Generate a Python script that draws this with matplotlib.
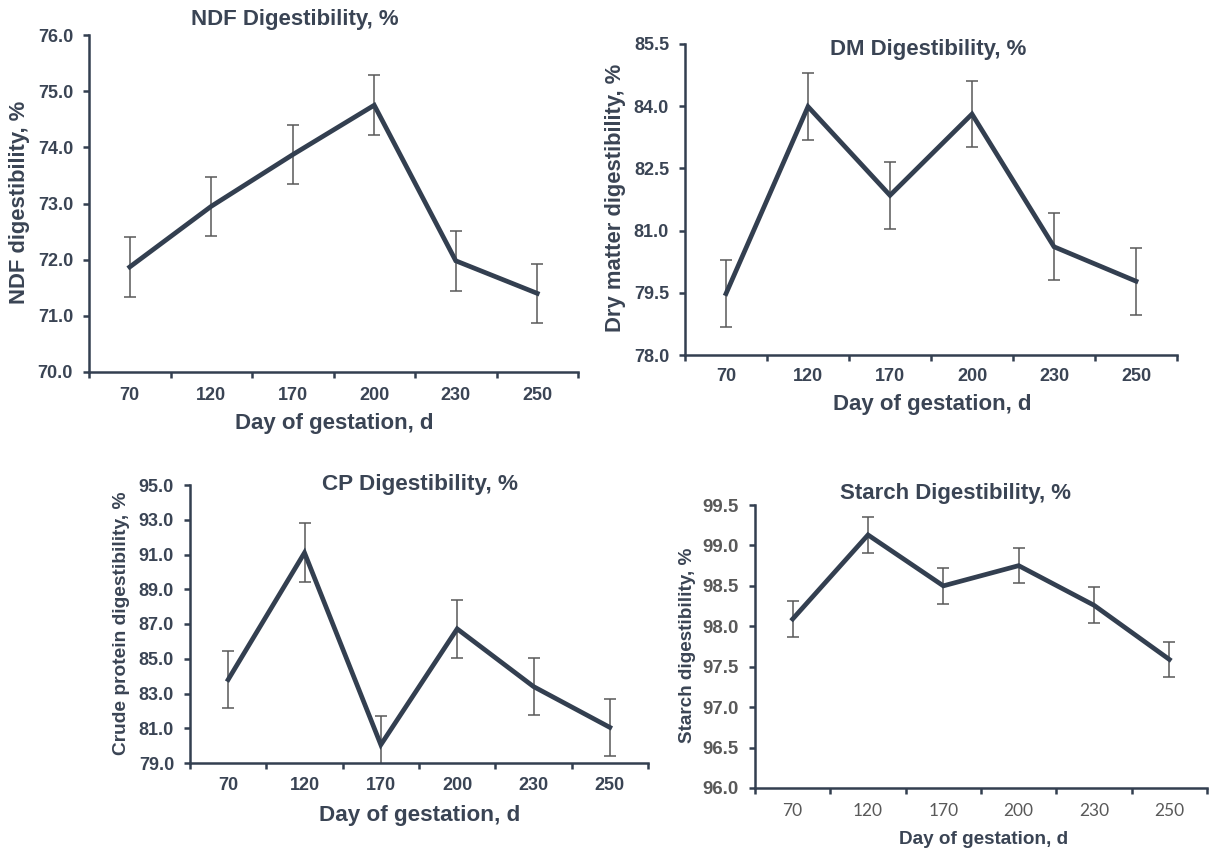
import numpy as np
import matplotlib
matplotlib.use("Agg")
import matplotlib.pyplot as plt

days = ["70", "120", "170", "200", "230", "250"]

ndf_mean = [71.87, 72.95, 73.87, 74.75, 71.98, 71.40]
ndf_err = [0.53, 0.53, 0.53, 0.53, 0.53, 0.53]

dm_mean = [79.48, 83.99, 81.85, 83.81, 80.61, 79.78]
dm_err = [0.81, 0.81, 0.81, 0.80, 0.81, 0.81]

cp_mean = [83.80, 91.10, 80.05, 86.72, 83.40, 81.05]
cp_err = [1.66, 1.70, 1.65, 1.67, 1.66, 1.65]

st_mean = [98.09, 99.13, 98.50, 98.75, 98.26, 97.59]
st_err = [0.22, 0.22, 0.22, 0.22, 0.22, 0.22]

W, H = 1210, 852
LINE = "#333F50"
TXT = "#3A4454"
GREY = "#595959"
plt.rcParams["font.family"] = ["Liberation Sans", "DejaVu Sans"]

fig = plt.figure(figsize=(W / 100, H / 100), dpi=100)


def px_axes(l, t, r, b):
    return fig.add_axes([l / W, 1 - b / H, (r - l) / W, (b - t) / H])


def ftext(x, y, s, size, rot=0):
    fig.text(x / W, 1 - y / H, s, ha="center", va="center", fontsize=size,
             fontweight="bold", color=TXT, rotation=rot)


def panel(box, mean, err, yticks, tick_fs, xpad, ytick_col=TXT, xtick_kw=None):
    ax = px_axes(*box)
    x = np.arange(len(days))
    ax.errorbar(x, mean, yerr=err, fmt="none", ecolor=GREY, elinewidth=1.1,
                capsize=4.5, capthick=1.1, zorder=2)
    ax.plot(x, mean, color=LINE, lw=3.4, solid_joinstyle="miter", zorder=3)
    ax.set_xlim(-0.5, len(days) - 0.5)
    ax.set_ylim(yticks[0], yticks[-1])
    ax.set_yticks(yticks)
    ax.set_yticklabels(["%.1f" % v for v in yticks])
    ax.set_xticks(np.arange(-0.5, len(days)), labels=[])
    ax.set_xticks(x, minor=True)
    ax.set_xticklabels(days, minor=True)
    for s in ["top", "right"]:
        ax.spines[s].set_visible(False)
    for s in ["left", "bottom"]:
        ax.spines[s].set_color(LINE)
        ax.spines[s].set_linewidth(1.8)
    ax.tick_params(axis="both", which="major", direction="out", length=4,
                   width=1.8, color=LINE)
    ax.tick_params(axis="y", labelsize=tick_fs, labelcolor=ytick_col, pad=7.5)
    ax.tick_params(axis="x", which="minor", length=0, pad=xpad)
    for lab in ax.get_yticklabels():
        lab.set_fontweight("bold")
    kw = xtick_kw or dict(fontsize=tick_fs, color=TXT, fontweight="bold")
    for lab in ax.get_xticklabels(minor=True):
        lab.set(**kw)
    ax.set_facecolor("none")
    return ax


# NDF
panel((89, 35, 578, 372), ndf_mean, ndf_err, np.arange(70, 76.01, 1.0), 13, 10.5)
ftext(295, 20, "NDF Digestibility, %", 16)
ftext(334, 423, "Day of gestation, d", 16)
ftext(20, 202, "NDF digestibility, %", 15.8, 90)

# DM
panel((685, 44, 1177, 355), dm_mean, dm_err, np.arange(78, 85.51, 1.5), 13, 9.5)
ftext(928, 50, "DM Digestibility, %", 16)
ftext(932, 405, "Day of gestation, d", 16)
ftext(615, 198, "Dry matter digestibility, %", 15.8, 90)

# CP
panel((190, 485, 648, 763), cp_mean, cp_err, np.arange(79, 95.01, 2.0), 13, 10)
ftext(420, 485, "CP Digestibility, %", 16.2)
ftext(420, 815, "Day of gestation, d", 16.2)
ftext(121, 623, "Crude protein digestibility, %", 13.8, 90)

# Starch
panel((755, 505, 1207, 788), st_mean, st_err, np.arange(96, 99.51, 0.5), 13.4, 11,
      ytick_col=GREY,
      xtick_kw=dict(fontsize=12.5, color=GREY, fontweight="normal",
                    family=["Lato", "DejaVu Sans"]))
ftext(956, 493, "Starch Digestibility, %", 16)
ftext(984, 840, "Day of gestation, d", 13.6)
ftext(688, 645, "Starch digestibility, %", 13.6, 90)

fig.savefig("out.png", dpi=100, facecolor="white")
